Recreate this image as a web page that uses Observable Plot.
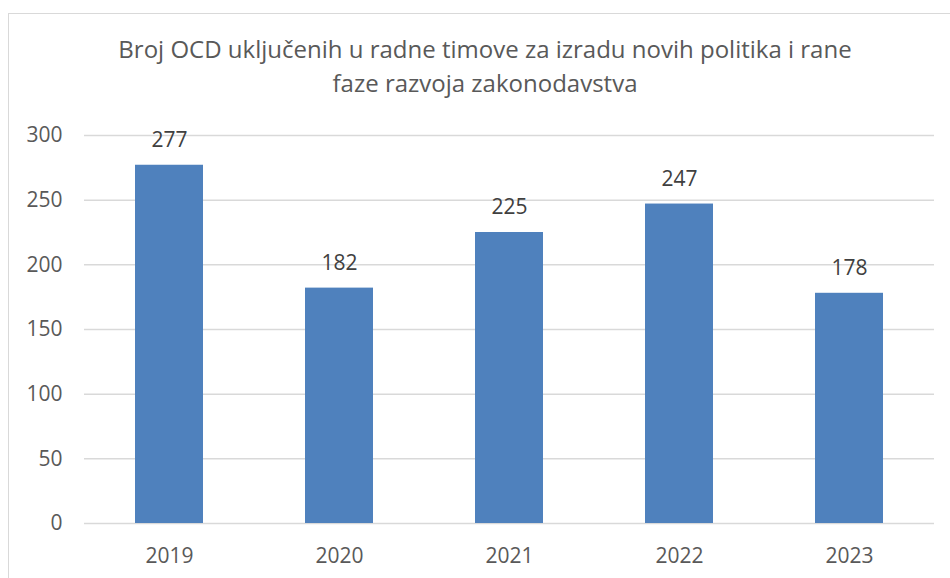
<!DOCTYPE html>
<html>
<head>
<meta charset="utf-8">
<script src="https://cdn.jsdelivr.net/npm/d3@7"></script>
<script src="https://cdn.jsdelivr.net/npm/@observablehq/plot@0.6"></script>
<style>
  html, body { margin: 0; padding: 0; background: #fff; }
  body { width: 950px; height: 578px; overflow: hidden; position: relative; font-family: "Open Sans", sans-serif; }
  #frame { position: absolute; left: 8px; top: 13px; width: 1000px; height: 700px; border: 1.5px solid #d9d9d9; box-sizing: border-box; }
  #title { position: absolute; left: 0; top: 32px; width: 970px; text-align: center; color: #595959; font-size: 24px; line-height: 34px; white-space: nowrap; }
  #chart { position: absolute; left: 0; top: 110px; }
</style>
</head>
<body>
<div id="frame"></div>
<div id="title">Broj OCD uključenih u radne timove za izradu novih politika i rane<br>faze razvoja zakonodavstva</div>
<div id="chart"></div>
<script>
const years = ["2019", "2020", "2021", "2022", "2023"];
const values = [277, 182, 225, 247, 178];
const yTicks = [0, 50, 100, 150, 200, 250, 300];

const data = years.map((y, i) => ({year: y, value: values[i]}));

const plot = Plot.plot({
  width: 950,
  height: 468,
  marginTop: 25,
  marginBottom: 55,
  marginLeft: 84,
  marginRight: 16,
  style: {fontFamily: "Open Sans, sans-serif", fontSize: "21px", color: "#595959", background: "transparent"},
  x: {domain: years, paddingInner: 0.6, paddingOuter: 0.3, label: null},
  y: {domain: [0, 300], label: null},
  marks: [
    Plot.ruleY(yTicks, {stroke: "#d9d9d9", strokeWidth: 1.5}),
    Plot.barY(data, {x: "year", y: "value", fill: "#4f81bd"}),
    Plot.text(data, {x: "year", y: "value", text: d => String(d.value), dy: -25, fill: "#404040", fontSize: 21}),
    Plot.axisY(yTicks, {tickSize: 0, tickPadding: 22, fill: "#595959", fontSize: 21}),
    Plot.axisX({tickSize: 0, tickPadding: 25, fill: "#595959", fontSize: 21})
  ]
});
document.getElementById("chart").appendChild(plot);
</script>
</body>
</html>
